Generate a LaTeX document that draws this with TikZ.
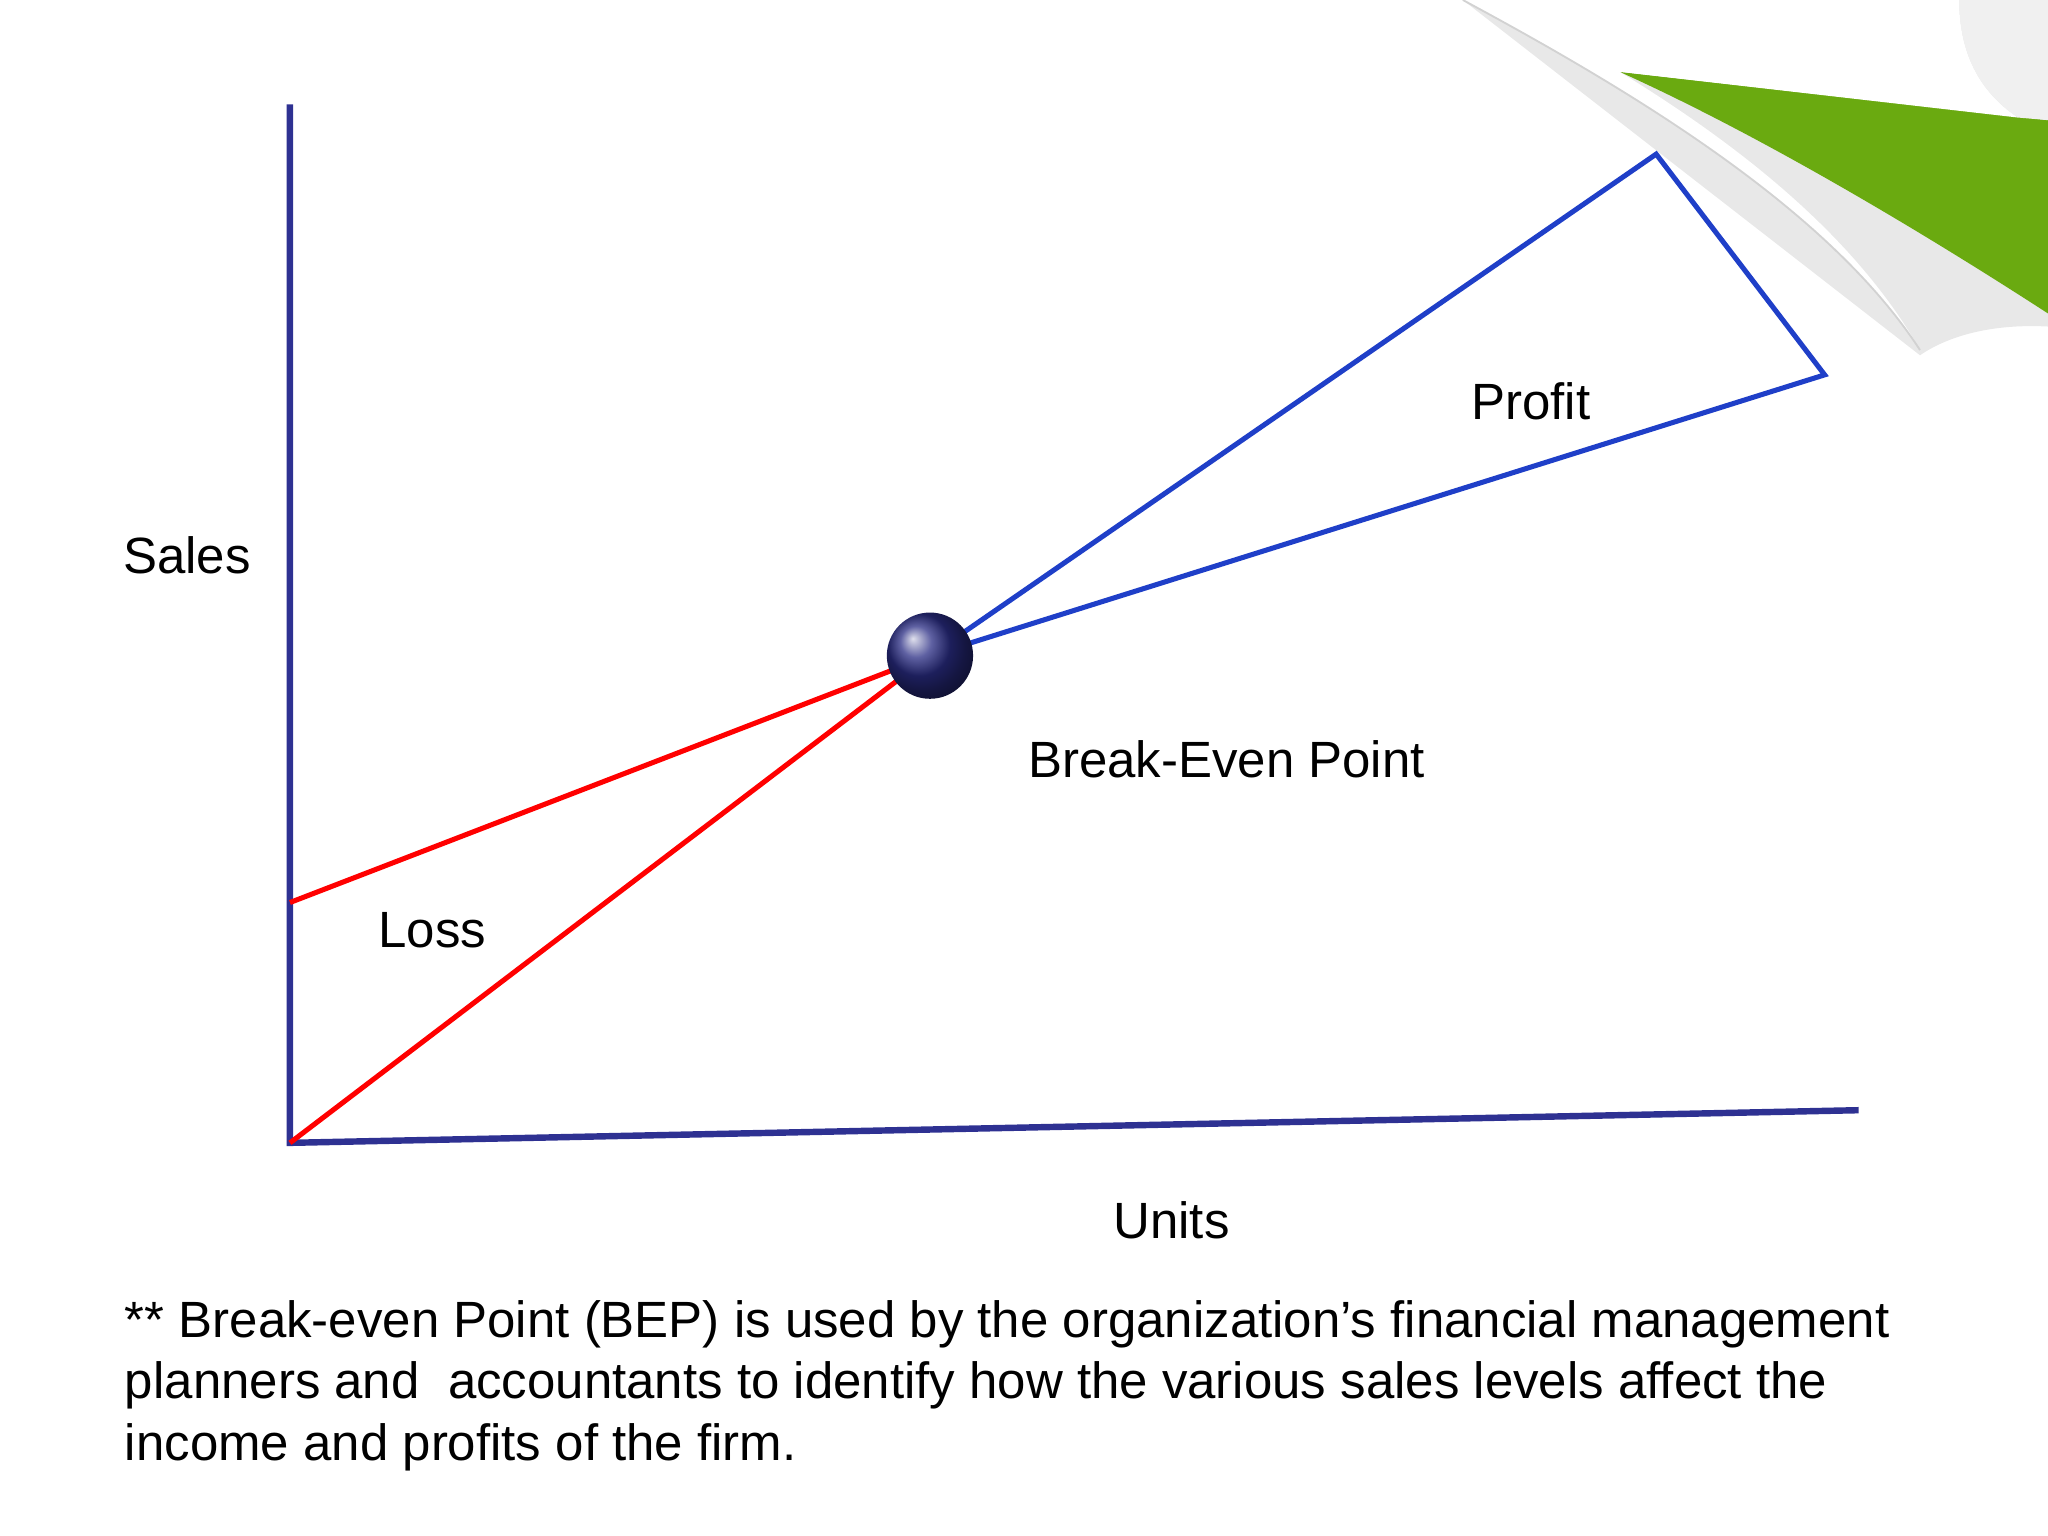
\documentclass[tikz,border=0pt]{standalone}
\usepackage{fontspec}
\setmainfont{Liberation Sans}
\begin{document}
\begin{tikzpicture}[x=0.01cm,y=-0.01cm,
  axis/.style={draw=axisblue,line width=1.4pt},
  lossline/.style={draw=red,line width=1.1pt},
  profline/.style={draw=profblue,line width=1.1pt},
  lbl/.style={font=\fontsize{11.1}{13}\selectfont,inner sep=0pt}]
\definecolor{axisblue}{HTML}{2E3192}
\definecolor{profblue}{HTML}{1F3FC8}
\definecolor{leaf}{HTML}{6AAA10}
\useasboundingbox (0,0) rectangle (1568,1176);
% page curl
\fill[gray!18] (1120,0) -- (1568,0) -- (1568,250) .. controls (1530,248) and (1495,255) .. (1470,272) -- cycle;
\fill[leaf] (1240,55) -- (1568,92) -- (1568,240) .. controls (1460,170) and (1340,100) .. cycle;
\fill[white] (1120,0) .. controls (1250,70) and (1400,160) .. (1470,268) .. controls (1420,180) and (1330,110) .. (1240,55) -- (1545,90) .. controls (1515,70) and (1500,40) .. (1500,0) -- cycle;
\fill[gray!12] (1500,0) .. controls (1500,40) and (1515,70) .. (1545,90) -- (1568,92) -- (1568,0) -- cycle;
\draw[gray!35,line width=0.4pt] (1120,0) .. controls (1250,70) and (1400,160) .. (1470,268);
% axes
\coordinate (top) at (222,80);
\coordinate (o) at (222,875);
\coordinate (xend) at (1423,850);
\coordinate (fc) at (222,691);
\coordinate (p1) at (1268,118);
\coordinate (p2) at (1397,287);
\coordinate (b) at (712,502);
\draw[axis] (top) -- (o) -- (xend);
\draw[lossline] (fc) -- (b);
\draw[lossline] (o) -- (b);
\draw[profline] (b) -- (p1) -- (p2) -- (b);
\node[circle,inner sep=0pt,minimum size=0.66cm,shading=ball,ball color=axisblue!90!black] (bep) at (b) {};
\node[lbl] (sales) at (143,425) {Sales};
\node[lbl] (loss) at (331,712) {Loss};
\node[lbl] (profit) at (1172,307) {Profit};
\node[lbl] (bepl) at (939,581) {Break-Even Point};
\node[lbl] (units) at (897,934) {Units};
\node[lbl,anchor=north west,align=left,font=\fontsize{11.1}{13.4}\selectfont] (note) at (95,995) {** Break-even Point (BEP) is used by the organization’s financial management\\planners and \ accountants to identify how the various sales levels affect the\\income and profits of the firm.};
\end{tikzpicture}
\end{document}
